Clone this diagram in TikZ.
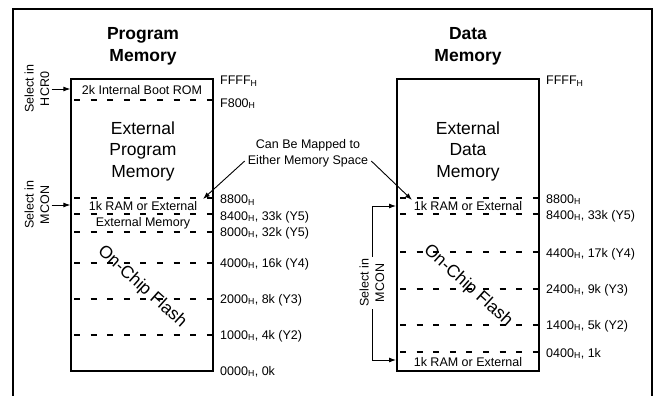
\documentclass[tikz,border=0pt]{standalone}
\usepackage{fontspec}
\setmainfont{Liberation Sans}
\usetikzlibrary{arrows.meta}
\tikzset{
 mem/.style={draw, line width=1.3pt, minimum width=142pt, minimum height=292pt, inner sep=0pt},
 dl/.style={dash pattern=on 6pt off 10.6pt, line width=1.3pt},
 lab/.style={anchor=base west, inner sep=0pt, font=\fontsize{12.5}{15}\selectfont},
 txt/.style={font=\fontsize{12.5}{15}\selectfont, inner sep=0pt},
 big/.style={font=\fontsize{17.5}{21.5}\selectfont, align=center},
 ttl/.style={font=\bfseries\fontsize{17.5}{22}\selectfont, align=center},
 flash/.style={font=\fontsize{17.5}{21}\selectfont, rotate=-42},
 sel/.style={font=\fontsize{12.5}{15.5}\selectfont, align=center, rotate=90, inner sep=2pt},
 arr/.style={-{Latex[length=7pt,width=5pt]}, line width=0.9pt},
}
\begin{document}
\begin{tikzpicture}[x=1pt,y=-1pt]
\useasboundingbox (0,0) rectangle (657,396);
\draw[line width=2pt] (12.5,396) -- (12.5,9) -- (652,9) -- (652,396);

% boxes
\node[mem] (pbox) at (142,225) {};
\node[mem] (dbox) at (468,225) {};

% titles
\node[ttl] (ptitle) at (143,46) {Program\\Memory};
\node[ttl] (dtitle) at (468,46) {Data\\Memory};

% dashed lines program
\foreach \yy in {100,198,214,232,263,299,335}{
  \draw[dl] (74,\yy) -- (213,\yy);
}
% dashed lines data
\foreach \yy in {198,214,252,289,325,352}{
  \draw[dl] (400,\yy) -- (539,\yy);
}

% program labels
\node[lab] (pl1) at (220,85) {FFFF\textsubscript{H}};
\node[lab] (pl2) at (220,107) {F800\textsubscript{H}};
\node[lab] (pl3) at (220,204) {8800\textsubscript{H}};
\node[lab] (pl4) at (220,220) {8400\textsubscript{H}, 33k (Y5)};
\node[lab] (pl5) at (220,236) {8000\textsubscript{H}, 32k (Y5)};
\node[lab] (pl6) at (220,267) {4000\textsubscript{H}, 16k (Y4)};
\node[lab] (pl7) at (220,303) {2000\textsubscript{H}, 8k (Y3)};
\node[lab] (pl8) at (220,339) {1000\textsubscript{H}, 4k (Y2)};
\node[lab] (pl9) at (220,375) {0000\textsubscript{H}, 0k};

% data labels
\node[lab] (dl1) at (546,85) {FFFF\textsubscript{H}};
\node[lab] (dl2) at (546,203) {8800\textsubscript{H}};
\node[lab] (dl3) at (546,219) {8400\textsubscript{H}, 33k (Y5)};
\node[lab] (dl4) at (546,257) {4400\textsubscript{H}, 17k (Y4)};
\node[lab] (dl5) at (546,293) {2400\textsubscript{H}, 9k (Y3)};
\node[lab] (dl6) at (546,329) {1400\textsubscript{H}, 5k (Y2)};
\node[lab] (dl7) at (546,357) {0400\textsubscript{H}, 1k};

% program box texts
\node[txt] (boot) at (142,90) {2k Internal Boot ROM};
\node[big] (pext) at (143,151) {External\\Program\\Memory};
\node[txt] (pram) at (143,206) {1k RAM or External};
\node[txt] (pextm) at (143,223) {External Memory};
\node[flash] (pflash) at (142,287) {On-Chip Flash};

% data box texts
\node[big] (dext) at (468,151) {External\\Data\\Memory};
\node[txt] (dram) at (468,206) {1k RAM or External};
\node[txt] (dram2) at (468,362) {1k RAM or External};
\node[flash] (dflash) at (468,286) {On-Chip Flash};

% mapped note
\node[txt] (can1) at (308,145) {Can Be Mapped to};
\node[txt, inner sep=3pt] (can2) at (308,161) {Either Memory Space};
\coordinate (ptip) at (203,199);
\coordinate (dtip) at (412,200);
\draw[arr] (can2.west) -- (ptip);
\draw[arr] (can2.east) -- (dtip);

% select labels
\node[sel] (hcr) at (37,89) {Select in\\HCR0};
\draw[arr] (hcr.south) -- (hcr.south -| pbox.west);
\node[sel] (pmcon) at (37,205) {Select in\\MCON};
\draw[arr] (pmcon.south) -- (pmcon.south -| pbox.west);

\node[sel] (dsel) at (372,283) {Select in\\MCON};
\coordinate (dtop) at (396,206);
\coordinate (dbot) at (396,360);
\draw[arr] (dsel.east) |- (dtop);
\draw[arr] (dsel.west) |- (dbot);
\end{tikzpicture}
\end{document}
